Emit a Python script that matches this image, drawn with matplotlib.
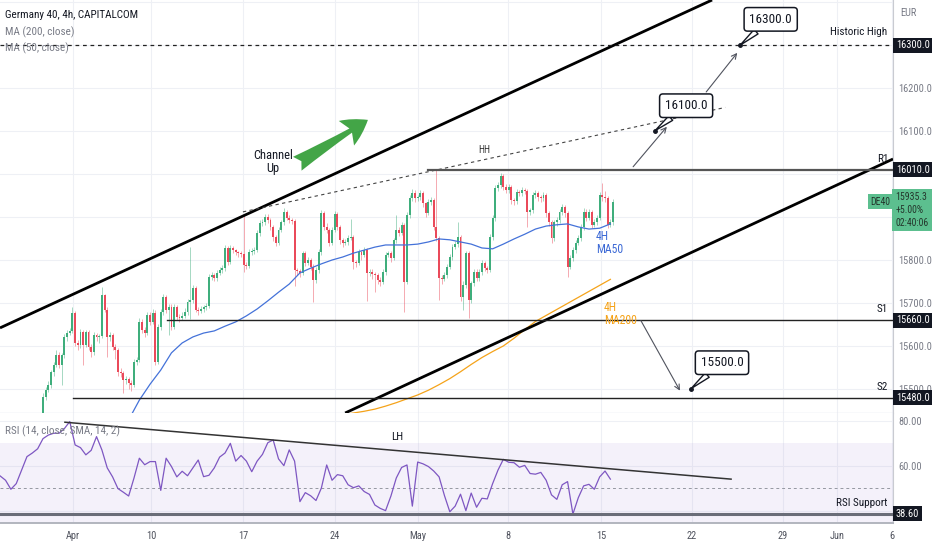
import numpy as np
import matplotlib
matplotlib.use("Agg")
import matplotlib.pyplot as plt
from matplotlib import font_manager

# narrow face if the box has one, else Roboto
names = {f.name for f in font_manager.fontManager.ttflist}
narrow = [n for n in ('Liberation Sans Narrow', 'DejaVu Sans Condensed', 'Roboto Condensed') if n in names]
plt.rcParams['font.family'] = narrow + ['Roboto', 'DejaVu Sans']

# 4h candles, Germany 40 (bar 0 = first visible candle)
first_open = 15444
closes = [
    15481, 15498, 15509, 15539, 15556, 15579, 15556, 15579, 15621, 15630,
    15635, 15677, 15607, 15602, 15632, 15602, 15632, 15598, 15586, 15625,
    15621, 15623, 15718, 15684, 15621, 15625, 15598, 15591, 15539, 15537,
    15521, 15523, 15514, 15509, 15563, 15567, 15656, 15637, 15630, 15672,
    15656, 15677, 15563, 15644, 15679, 15714, 15684, 15691, 15644, 15691,
    15667, 15665, 15670, 15679, 15702, 15707, 15735, 15684, 15681, 15686,
    15691, 15693, 15760, 15765, 15758, 15770, 15777, 15781, 15828, 15795,
    15828, 15823, 15819, 15816, 15814, 15788, 15786, 15819, 15821, 15823,
    15863, 15886, 15888, 15900, 15893, 15877, 15853, 15840, 15870, 15888,
    15912, 15898, 15893, 15891, 15777, 15775, 15770, 15816, 15793, 15800,
    15784, 15753, 15777, 15819, 15909, 15877, 15870, 15840, 15870, 15907,
    15877, 15846, 15840, 15842, 15851, 15853, 15795, 15793, 15819, 15812,
    15823, 15770, 15772, 15768, 15765, 15753, 15749, 15772, 15812, 15816,
    15805, 15846, 15870, 15863, 15881, 15749, 15905, 15944, 15956, 15944,
    15946, 15956, 15932, 15909, 15935, 15939, 15877, 15851, 15758, 15756,
    15765, 15784, 15807, 15830, 15837, 15853, 15714, 15742, 15816, 15707,
    15746, 15772, 15758, 15772, 15793, 15781, 15777, 15853, 15898, 15967,
    15974, 15995, 15970, 15963, 15970, 15939, 15937, 15958, 15956, 15963,
    15961, 15912, 15916, 15951, 15956, 15946, 15944, 15951, 15909, 15888,
    15851, 15888, 15893, 15912, 15923, 15909, 15784, 15805, 15823, 15840,
    15851, 15877, 15912, 15898, 15912, 15881, 15888, 15898, 15951, 15946,
    15944, 15881, 15888, 15935,
]
highs = [
    15490, 15505, 15518, 15545, 15562, 15590, 15585, 15584, 15628, 15636,
    15642, 15690, 15682, 15615, 15640, 15637, 15638, 15636, 15604, 15632,
    15630, 15628, 15738, 15722, 15690, 15632, 15630, 15605, 15596, 15548,
    15542, 15530, 15528, 15520, 15570, 15575, 15665, 15662, 15645, 15680,
    15678, 15686, 15684, 15650, 15686, 15722, 15718, 15697, 15698, 15698,
    15695, 15674, 15680, 15688, 15710, 15830, 15742, 15740, 15690, 15692,
    15696, 15700, 15768, 15772, 15770, 15776, 15784, 15788, 15836, 15832,
    15834, 15832, 15826, 15822, 15820, 15905, 15795, 15825, 15828, 15830,
    15870, 15894, 15895, 15908, 15906, 15898, 15882, 15858, 15876, 15894,
    15920, 15916, 15904, 15898, 15896, 15782, 15780, 15822, 15820, 15806,
    15805, 15790, 15784, 15826, 15916, 15914, 15885, 15874, 15876, 15915,
    15912, 15882, 15852, 15850, 15858, 15895, 15858, 15800, 15826, 15824,
    15830, 15828, 15780, 15778, 15772, 15770, 15760, 15778, 15818, 15822,
    15822, 15852, 15905, 15876, 15888, 15886, 15912, 15952, 15965, 15962,
    15952, 15962, 15960, 15936, 15942, 15946, 15944, 16012, 15856, 15765,
    15772, 15790, 15814, 15838, 15844, 15888, 15858, 15750, 15822, 15820,
    15752, 15778, 15780, 15778, 15800, 15798, 15786, 15860, 15905, 15975,
    15982, 16002, 16000, 15976, 15978, 15975, 15945, 15965, 15964, 15970,
    15968, 15966, 15922, 15958, 15962, 15960, 15952, 15958, 15956, 15914,
    15894, 15894, 15900, 15918, 15930, 15928, 15914, 15812, 15830, 15846,
    15858, 15884, 15920, 15918, 15918, 15916, 15895, 15905, 15958, 15980,
    15960, 15950, 15895, 15942,
]
lows = [
    15440, 15475, 15492, 15503, 15530, 15550, 15548, 15510, 15572, 15612,
    15625, 15630, 15600, 15590, 15596, 15555, 15598, 15590, 15575, 15580,
    15612, 15606, 15618, 15678, 15575, 15612, 15590, 15570, 15530, 15528,
    15490, 15512, 15500, 15495, 15505, 15555, 15562, 15630, 15620, 15625,
    15648, 15650, 15555, 15558, 15638, 15672, 15676, 15625, 15638, 15640,
    15660, 15655, 15660, 15664, 15672, 15662, 15700, 15678, 15672, 15676,
    15680, 15684, 15688, 15754, 15750, 15752, 15764, 15770, 15775, 15788,
    15790, 15816, 15812, 15808, 15806, 15772, 15778, 15782, 15812, 15815,
    15818, 15856, 15880, 15882, 15886, 15870, 15845, 15832, 15835, 15865,
    15882, 15892, 15886, 15884, 15740, 15765, 15760, 15764, 15786, 15788,
    15776, 15703, 15746, 15770, 15812, 15870, 15862, 15832, 15835, 15865,
    15870, 15838, 15830, 15834, 15836, 15846, 15778, 15784, 15788, 15800,
    15806, 15705, 15762, 15755, 15725, 15745, 15740, 15744, 15766, 15806,
    15796, 15800, 15840, 15855, 15858, 15678, 15744, 15898, 15938, 15936,
    15938, 15940, 15924, 15900, 15904, 15928, 15870, 15845, 15708, 15745,
    15750, 15758, 15778, 15800, 15825, 15830, 15705, 15684, 15736, 15665,
    15700, 15740, 15750, 15752, 15766, 15774, 15770, 15772, 15846, 15890,
    15960, 15968, 15962, 15955, 15956, 15930, 15928, 15930, 15948, 15950,
    15954, 15877, 15904, 15910, 15945, 15938, 15936, 15938, 15900, 15880,
    15840, 15845, 15880, 15886, 15905, 15900, 15760, 15778, 15798, 15816,
    15835, 15845, 15870, 15890, 15892, 15874, 15876, 15882, 15892, 15938,
    15936, 15874, 15876, 15882,
]

# moving averages read every 4 bars
ma50_start = 32
ma50 = [15428, 15474, 15511, 15544, 15584, 15607, 15621, 15630, 15635, 15646,
        15656, 15670, 15686, 15705, 15725, 15744, 15770, 15781, 15791, 15800,
        15807, 15816, 15823, 15830, 15835, 15835, 15835, 15837, 15842, 15849,
        15847, 15842, 15837, 15828, 15826, 15837, 15849, 15860, 15872, 15879,
        15882, 15884, 15877, 15872, 15874, 15884]
ma200_start = 112
ma200 = [15440, 15444, 15448, 15453, 15460, 15468, 15477, 15486, 15497, 15510,
         15524, 15540, 15557, 15573, 15587, 15600, 15618, 15638, 15657, 15671,
         15685, 15699, 15713, 15727, 15741, 15755]

# RSI(14) read every 2 bars, starting before the first visible candle
rsi_start = -16
rsi = [55.4, 53.5, 49.5, 52, 58, 64, 65.6, 67.5, 72, 73.6,
       74.4, 74.4, 76.5, 79.6, 69.2, 68, 64.8, 66.8, 72.9, 67,
       59, 55, 49.8, 48.2, 46.5, 54.5, 63.3, 60.4, 61.8, 61.8,
       49, 63.3, 59.6, 55, 57.5, 55.5, 59, 62.5, 55.1, 55.7,
       59, 63.8, 65.6, 69.9, 62, 64.5, 62, 57.3, 62, 65,
       70.2, 71.4, 63, 60, 67, 62, 44, 48, 46.6, 44.5,
       50, 60.3, 53.5, 56, 55.5, 51.5, 50.2, 51, 48.5, 47.2,
       42.5, 41, 40, 46.5, 54.5, 59.2, 60.3, 42, 61.6, 60.8,
       59.6, 57.6, 55, 46.7, 39.5, 42, 47.3, 40, 47.8, 41.5,
       45.5, 45.2, 52, 58, 62.8, 61.5, 61.3, 59.3, 60.1, 56.5,
       56.2, 57, 53.5, 47, 45, 51.5, 52.9, 38.5, 45.7, 51,
       51.7, 49.5, 55, 57.6, 54]

date_labels = ['Apr', '10', '17', '24', 'May', '8', '15', '22', '29', 'Jun', '6']
date_pos = [11.2, 40.4, 74.7, 109.1, 140.1, 173.8, 208.5, 242.5, 276.5, 296.7, 317.3]

levels = {'R1': 16010, 'S1': 15660, 'S2': 15480}
historic_high = 16300
rsi_support = 38.6
last_price = 15935.3

UP = '#3fae7c'
DN = '#ea4a5a'
GRID = '#eef0f5'
TXT = '#131722'
GRAY = '#787b86'
FS = 7.5 if narrow else 6.8   # small labels

fig = plt.figure(figsize=(9.32, 5.5), dpi=100)
ax = fig.add_axes([0, 137 / 550, 893 / 932, 413 / 550])
axr = fig.add_axes([0, 27 / 550, 893 / 932, 110 / 550], sharex=ax)

x_lo, x_hi = -16.07, 317.6
ax.set_xlim(x_lo, x_hi)
ax.set_ylim(15444, 16405)
axr.set_ylim(34.5, 83.4)

# grids
for d in date_pos:
    ax.axvline(d, color=GRID, lw=0.8, zorder=0)
    axr.axvline(d, color=GRID, lw=0.8, zorder=0)
for lv in np.arange(15500, 16401, 100):
    ax.axhline(lv, color=GRID, lw=0.8, zorder=0)
for lv in (40, 60, 80):
    axr.axhline(lv, color=GRID, lw=0.8, zorder=0)

# candles
c = np.array(closes, float)
o = np.r_[first_open, c[:-1]]
h = np.maximum(np.array(highs, float), np.maximum(o, c))
l = np.minimum(np.array(lows, float), np.minimum(o, c))
idx = np.arange(len(c))
col = np.where(c >= o, UP, DN)
ax.vlines(idx, l, h, colors=col, lw=0.6, alpha=0.55, zorder=2)
ax.bar(idx, np.maximum(np.abs(c - o), 1.5), bottom=np.minimum(o, c), width=0.72,
       color=col, lw=0, zorder=3)

# moving averages
ax.plot(ma50_start + 4 * np.arange(len(ma50)), ma50, color='#4472d9', lw=0.9, zorder=4)
ax.plot(ma200_start + 4 * np.arange(len(ma200)), ma200, color='#f5a31a', lw=0.9, zorder=4)

# channel up
ax.plot([-16.07, 250.0], [15642, 16405], color='black', lw=2.0, zorder=5, solid_capstyle='butt')
ax.plot([112.9, 317.6], [15444, 16035], color='black', lw=2.0, zorder=5, solid_capstyle='butt')
ax.plot([74.7, 254.9], [15912, 16155], color='#444444', lw=0.8, ls=(0, (3, 3)), zorder=5)

# horizontal levels
ax.axhline(historic_high, color='#222222', lw=0.9, ls=(0, (3, 3)), zorder=5)
ax.plot([143.9, x_hi], [levels['R1']] * 2, color='#555555', lw=1.6, zorder=5)
ax.plot([46.3, x_hi], [levels['S1']] * 2, color='#222222', lw=1.0, zorder=5)
ax.plot([11.2, x_hi], [levels['S2']] * 2, color='#222222', lw=1.0, zorder=5)

ax.text(315.4, 16318, 'Historic High', ha='right', va='bottom', fontsize=8, color=TXT)
ax.text(315.8, 16024, 'R1', ha='right', va='bottom', fontsize=8, color=TXT)
ax.text(315.8, 15674, 'S1', ha='right', va='bottom', fontsize=8, color=TXT)
ax.text(315.8, 15494, 'S2', ha='right', va='bottom', fontsize=8, color=TXT)

# arrows
arr = dict(arrowstyle='->', color='#50535e', lw=0.8, shrinkA=0, shrinkB=0, mutation_scale=9)
ax.annotate('', xy=(233.1, 16110), xytext=(220.5, 16017), arrowprops=arr, zorder=6)
ax.annotate('', xy=(259.4, 16282), xytext=(247.8, 16191), arrowprops=arr, zorder=6)
ax.annotate('', xy=(238.0, 15496), xytext=(223.4, 15659), arrowprops=arr, zorder=6)

ax.annotate('', xy=(121.4, 16126), xytext=(95.0, 16024), zorder=6,
            arrowprops=dict(arrowstyle='fancy,head_length=0.7,head_width=0.8,tail_width=0.45',
                            color='#43a547', lw=0, mutation_scale=26, shrinkA=0, shrinkB=0))

# callouts
def callout(label, box, tip):
    ax.plot(*tip, 'o', ms=2.5, color=TXT, zorder=7)
    ax.annotate(label, xy=tip, xytext=box, ha='center', va='center', fontsize=9.5,
                color=TXT, zorder=7,
                bbox=dict(boxstyle='round,pad=0.4,rounding_size=0.25', fc='white', ec=TXT, lw=1.1),
                arrowprops=dict(arrowstyle='wedge,tail_width=0.45', fc='white', ec=TXT, lw=1.0,
                                shrinkA=0, shrinkB=0))

callout('16100.0', (240.3, 16159), (228.7, 16101))
callout('16300.0', (271.9, 16360), (260.5, 16300))
callout('15500.0', (253.7, 15561), (242.2, 15501))

ax.text(86, 16028, 'Channel\nUp', ha='center', va='center', fontsize=9, color=TXT,
        linespacing=1.0, zorder=7)
ax.text(164.8, 16056, 'HH', ha='center', va='center', fontsize=7, color='#333333')
ax.text(206.6, 15840, '4H\nMA50', ha='left', va='center', fontsize=8.5, color='#3d6ad6',
        linespacing=1.0, zorder=7)
ax.text(209.5, 15674, '4H\nMA200', ha='left', va='center', fontsize=8.5, color='#f5a31a',
        linespacing=1.0, zorder=7)

# right price scale
ax.yaxis.tick_right()
ax.set_yticks([15500, 15600, 15700, 15800, 16100, 16200])
ax.set_yticklabels(['%.1f' % v for v in [15500, 15600, 15700, 15800, 16100, 16200]])
ax.tick_params(axis='y', length=0, pad=4, labelsize=FS, labelcolor=GRAY)
ax.tick_params(axis='x', length=0, labelbottom=False)
for s in ('top', 'left', 'bottom'):
    ax.spines[s].set_visible(False)
ax.spines['right'].set_color('#c9cbd1')
ax.axhline(15444, color='#e0e3eb', lw=1.0, zorder=1)

ytr = ax.get_yaxis_transform()
for v in (historic_high, levels['R1'], levels['S1'], levels['S2']):
    ax.text(1.003, v, '%.1f' % v, transform=ytr, ha='left', va='center', fontsize=FS,
            color='white', clip_on=False, zorder=8,
            bbox=dict(boxstyle='square,pad=0.25', fc=TXT, ec='none'))
ax.text(1.003, 15916, '%.1f\n+5.00%%\n02:40:06' % last_price, transform=ytr, ha='left',
        va='center', fontsize=FS - 0.5, color='#24362c', clip_on=False, zorder=8, linespacing=1.35,
        bbox=dict(boxstyle='square,pad=0.35', fc='#5cbf8f', ec='none'))
ax.text(0.997, 15936, 'DE40', transform=ytr, ha='right', va='center', fontsize=FS - 0.5,
        color='#24362c', zorder=8, bbox=dict(boxstyle='square,pad=0.25', fc='#5cbf8f', ec='none'))
fig.text(900 / 932, 1 - 13 / 550, 'EUR', ha='left', va='center', fontsize=FS, color=GRAY)

# RSI panel
axr.axhspan(30, 70, color='#7e57c2', alpha=0.08, lw=0, zorder=0)
axr.axhline(50, color='#9598a1', lw=0.7, ls=(0, (3, 3)), zorder=1)
axr.plot(rsi_start + 2 * np.arange(len(rsi)), rsi, color='#7e57c2', lw=0.9, zorder=3)
axr.axhline(rsi_support, color='#6a6d78', lw=2.2, zorder=4)
axr.plot([8.2, 257.1], [79.3, 54.0], color='#333333', lw=1.1, zorder=4)
axr.text(132.3, 72.8, 'LH', ha='center', va='center', fontsize=8, color=TXT)
axr.text(315.4, 41.2, 'RSI Support', ha='right', va='bottom', fontsize=8, color=TXT)

axr.yaxis.tick_right()
axr.set_yticks([60, 80])
axr.set_yticklabels(['60.00', '80.00'])
axr.tick_params(axis='y', length=0, pad=4, labelsize=FS, labelcolor=GRAY)
axr.set_xticks(date_pos)
axr.set_xticklabels(date_labels)
axr.tick_params(axis='x', length=0, pad=6, labelsize=7.5, labelcolor='#50535e')
for s in ('top', 'left'):
    axr.spines[s].set_visible(False)
axr.spines['right'].set_color('#c9cbd1')
axr.spines['bottom'].set_color('#b2b5be')
axr.spines['bottom'].set_linewidth(1.4)
axr.text(1.003, rsi_support, '%.2f' % rsi_support, transform=axr.get_yaxis_transform(),
         ha='left', va='center', fontsize=FS, color='white', clip_on=False, zorder=8,
         bbox=dict(boxstyle='square,pad=0.25', fc=TXT, ec='none'))

# legends
fig.text(5 / 932, 1 - 15 / 550, 'Germany 40, 4h, CAPITALCOM', fontsize=8, color=TXT, va='center')
fig.text(5 / 932, 1 - 32 / 550, 'MA (200, close)', fontsize=8, color=GRAY, va='center')
fig.text(5 / 932, 1 - 48 / 550, 'MA (50, close)', fontsize=8, color=GRAY, va='center')
fig.text(5 / 932, 1 - 431 / 550, 'RSI (14, close, SMA, 14, 2)', fontsize=8, color=GRAY, va='center')

fig.savefig('out.png', dpi=100, facecolor='white')
